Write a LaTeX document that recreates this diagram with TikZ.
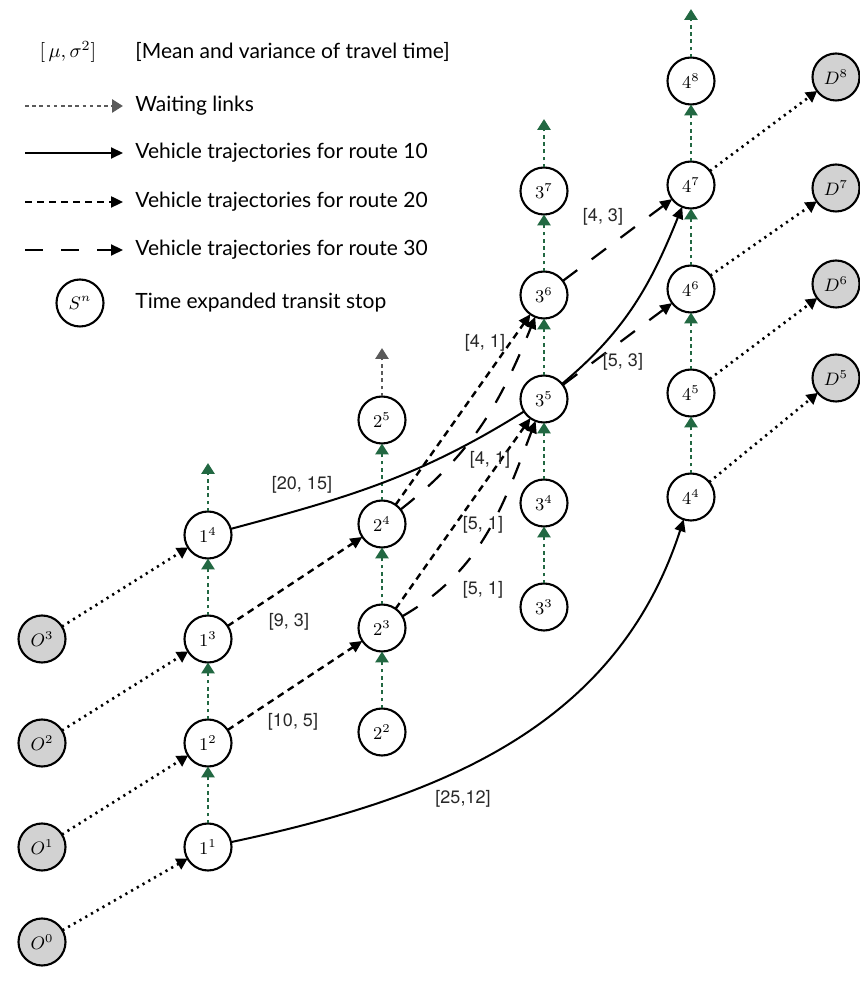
\documentclass[tikz,border=0pt]{standalone}
\usepackage{amsmath}
\usepackage{amssymb}
\usepackage{fontspec}
\setsansfont{TeX Gyre Heros}
\newfontfamily\legendfont{Lato}
\usetikzlibrary{arrows.meta, positioning, calc}

\definecolor{waitgreen}{RGB}{34,104,66}
\definecolor{waitgray}{RGB}{90,90,90}
\definecolor{odgray}{RGB}{210,210,210}
\definecolor{costtext}{RGB}{40,40,40}

\begin{document}
\begin{tikzpicture}[x=0.5pt, y=0.5pt, node distance=28.5pt,
    stop/.style={circle, draw, line width=1.05pt, fill=white, minimum size=23.5pt, inner sep=0pt, outer sep=0pt},
    odstop/.style={stop, fill=odgray},
    wait/.style={waitgreen, line width=1.4pt, dash pattern=on 1.8pt off 1.8pt, -{Triangle[width=6.5pt,length=5.5pt]}},
    access/.style={line width=1.3pt, dash pattern=on 1.1pt off 2.2pt, -{Triangle[width=6pt,length=5.5pt]}},
    route10/.style={line width=1pt, -{Triangle[width=5.5pt,length=6pt]}},
    route20/.style={line width=1.2pt, dash pattern=on 3.5pt off 2.5pt, -{Triangle[width=5.5pt,length=6pt]}},
    route30/.style={line width=1.1pt, dash pattern=on 9pt off 9pt, -{Triangle[width=5.5pt,length=6pt]}},
    cost/.style={font=\sffamily, text=costtext, inner sep=1pt},
    legend/.style={font=\legendfont\fontsize{10.5}{12}\selectfont, anchor=west, inner sep=0pt}]
  \useasboundingbox (0,0) rectangle (859,981);
  \begin{small}
  % Legend
  \node[font=\normalsize] (lmu) at (68,929) {$[\,\mu,\sigma^2]$};
  \node[legend] (lmean) at (135,929) {[Mean and variance of travel time]};

  \coordinate (lw0) at (25,875);
  \coordinate (lw1) at (123,875);
  \draw[wait, waitgray] (lw0) -- (lw1);
  \node[legend] (lwait) at (135,875) {Waiting links};

  \coordinate (la0) at (25,828);
  \coordinate (la1) at (123,828);
  \draw[route10] (la0) -- (la1);
  \node[legend] (lr10) at (135,828) {Vehicle trajectories for route 10};

  \coordinate (lb0) at (25,779);
  \coordinate (lb1) at (123,779);
  \draw[route20] (lb0) -- (lb1);
  \node[legend] (lr20) at (135,779) {Vehicle trajectories for route 20};

  \coordinate (lc0) at (25,731);
  \coordinate (lc1) at (123,731);
  \draw[route30] (lc0) -- (lc1);
  \node[legend] (lr30) at (135,731) {Vehicle trajectories for route 30};

  \node[stop] (lstop) at (80,678) {$S^n$};
  \node[legend] (lstoptext) at (135,678) {Time expanded transit stop};

  % Stop 1
  \node[stop] (s11) at (208,134) {$1^1$};
  \node[stop, above=of s11] (s12) {$1^2$};
  \node[stop, above=of s12] (s13) {$1^3$};
  \node[stop, above=of s13] (s14) {$1^4$};

  % Stop 2
  \node[stop] (s22) at (382,249) {$2^2$};
  \node[stop, above=of s22] (s23) {$2^3$};
  \node[stop, above=of s23] (s24) {$2^4$};
  \node[stop, above=of s24] (s25) {$2^5$};

  % Stop 3
  \node[stop] (s33) at (544,374) {$3^3$};
  \node[stop, above=of s33] (s34) {$3^4$};
  \node[stop, above=of s34] (s35) {$3^5$};
  \node[stop, above=of s35] (s36) {$3^6$};
  \node[stop, above=of s36] (s37) {$3^7$};

  % Stop 4
  \node[stop] (s44) at (691,484) {$4^4$};
  \node[stop, above=of s44] (s45) {$4^5$};
  \node[stop, above=of s45] (s46) {$4^6$};
  \node[stop, above=of s46] (s47) {$4^7$};
  \node[stop, above=of s47] (s48) {$4^8$};

  % Origins and destinations
  \node[odstop, left=59.5pt of s11] (o1) {$O^1$};
  \node[odstop, below=24pt of o1] (o0) {$O^0$};
  \node[odstop, left=59.5pt of s12] (o2) {$O^2$};
  \node[odstop, left=59.5pt of s13] (o3) {$O^3$};
  \node[odstop] (d5) at (836,603) {$D^5$};
  \node[odstop] (d6) at (836,697) {$D^6$};
  \node[odstop] (d7) at (836,793) {$D^7$};
  \node[odstop] (d8) at (836,904) {$D^8$};

  % Waiting links
  \coordinate (w1) at ($(s14)+(0,72)$);
  \coordinate (w2) at ($(s25)+(0,72)$);
  \coordinate (w3) at ($(s37)+(0,72)$);
  \coordinate (w4) at ($(s48)+(0,72)$);
  \draw[wait] (s11) -- (s12);
  \draw[wait] (s12) -- (s13);
  \draw[wait] (s13) -- (s14);
  \draw[wait] (s14) -- (w1);
  \draw[wait] (s22) -- (s23);
  \draw[wait] (s23) -- (s24);
  \draw[wait] (s24) -- (s25);
  \draw[wait, waitgray] (s25) -- (w2);
  \draw[wait] (s33) -- (s34);
  \draw[wait] (s34) -- (s35);
  \draw[wait] (s35) -- (s36);
  \draw[wait] (s36) -- (s37);
  \draw[wait] (s37) -- (w3);
  \draw[wait] (s44) -- (s45);
  \draw[wait] (s45) -- (s46);
  \draw[wait] (s46) -- (s47);
  \draw[wait] (s47) -- (s48);
  \draw[wait] (s48) -- (w4);

  % Access and egress links
  \draw[access] (o0) -- (s11);
  \draw[access] (o1) -- (s12);
  \draw[access] (o2) -- (s13);
  \draw[access] (o3) -- (s14);
  \draw[access] (s44) -- (d5);
  \draw[access] (s45) -- (d6);
  \draw[access] (s46) -- (d7);
  \draw[access] (s47) -- (d8);

  % Route 10
  \draw[route10] (s11) to[out=12, in=-108] (s44);
  \draw[route10, -] (s14) to[out=15, in=-148] (s35);
  \draw[route10] (s35) to[out=40, in=-112] (s47);

  % Route 20
  \draw[route20] (s12) -- (s23);
  \draw[route20] (s13) -- (s24);
  \draw[route20] (s23) -- (s35);
  \draw[route20] (s24) -- (s36);

  % Route 30
  \draw[route30] (s23) to[out=30, in=-111] (s35);
  \draw[route30] (s24) to[out=38, in=-112] (s36);
  \draw[route30] (s35) -- (s46);
  \draw[route30] (s36) -- (s47);

  % Travel time labels
  \node[cost] (c2512) at (463,182) {[25,12]};
  \node[cost] (c2015) at (302,496) {[20, 15]};
  \node[cost] (c105) at (293,259) {[10, 5]};
  \node[cost] (c93) at (289,359) {[9, 3]};
  \node[cost] (c41a) at (485,638) {[4, 1]};
  \node[cost] (c41b) at (490,521) {[4, 1]};
  \node[cost] (c51a) at (483,456) {[5, 1]};
  \node[cost] (c51b) at (483,391) {[5, 1]};
  \node[cost] (c43) at (603,764) {[4, 3]};
  \node[cost] (c53) at (623,619) {[5, 3]};
  \end{small}
\end{tikzpicture}
\end{document}
